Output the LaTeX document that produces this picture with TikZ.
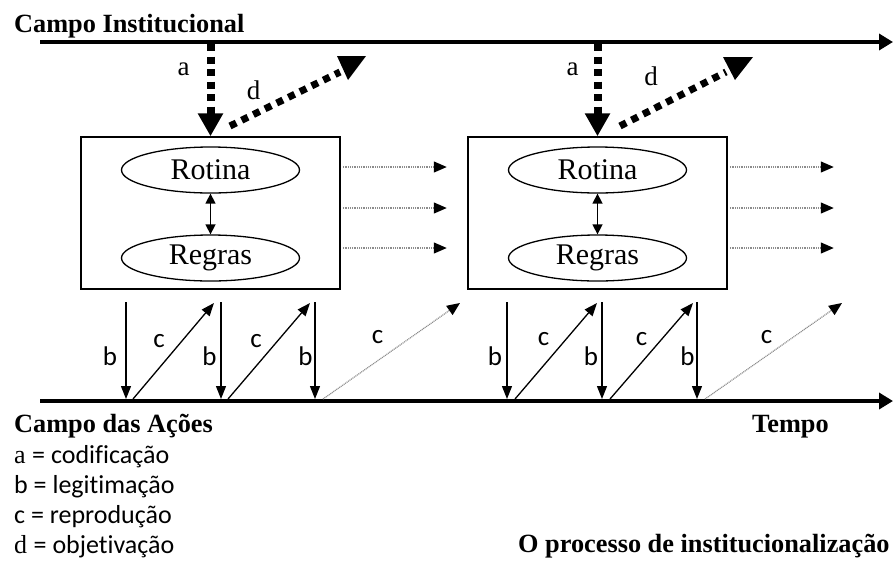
\documentclass[tikz,border=0pt]{standalone}
\usepackage{fontspec}
\setmainfont{Liberation Serif}
\newfontfamily\calfont[Ligatures=NoCommon]{Carlito}
\usetikzlibrary{arrows.meta,shapes.geometric}
\begin{document}
\begin{tikzpicture}[x=1pt,y=-1pt,
  title/.style={anchor=base west, inner sep=0, font=\fontsize{26.3}{30}\selectfont\bfseries},
  legend/.style={anchor=base west, inner sep=0, font=\fontsize{26}{30}\selectfont},
  box/.style={draw, line width=1.5pt, minimum width=259pt, minimum height=152pt, inner sep=0},
  oval/.style={draw, ellipse, line width=1.3pt, minimum width=178pt, minimum height=46pt, inner sep=0, font=\fontsize{30}{32}\selectfont},
  axis/.style={line width=4.5pt, -{Triangle[width=16pt,length=14pt]}},
  heavy/.style={line width=8pt, dash pattern=on 7pt off 5.5pt, -{Triangle[width=24pt,length=23pt]}},
  heavyline/.style={line width=7pt, dash pattern=on 7pt off 6pt},
  thinarrow/.style={line width=1.3pt, -{Triangle[width=10pt,length=13pt]}},
  twoway/.style={line width=1.5pt, {Triangle[width=10pt,length=10pt]}-{Triangle[width=10pt,length=10pt]}},
  faint/.style={draw=gray!90, line width=1.2pt, dash pattern=on 1pt off 0.8pt, -{Triangle[width=11pt,length=13pt,color=black]}},
  slab/.style={anchor=base, inner sep=0, font=\fontsize{27}{30}\selectfont},
  clab/.style={anchor=base, inner sep=0, font=\calfont\fontsize{27}{30}\selectfont}]
\useasboundingbox (0,0) rectangle (893,563);

% the two fields, drawn as time axes
\coordinate (topL) at (40,42);
\coordinate (topR) at (893,42);
\coordinate (botL) at (40,401);
\coordinate (botR) at (893,401);
\draw[axis] (topL) -- (topR);
\draw[axis] (botL) -- (botR);

\node[title] (campoInst) at (14,32) {Campo Institucional};
\node[title] (campoAcoes) at (14,432) {Campo das Ações};
\node[title] (tempo) at (752,432) {Tempo};
\node[title] (processo) at (518,552) {O processo de institucionalização};

% legend
\node[legend] (la) at (14,463) {a {\calfont= codificação}};
\node[legend] (lb) at (14,493) {\calfont b = legitimação};
\node[legend] (lc) at (14,523) {\calfont c = reprodução};
\node[legend] (ld) at (14,553) {d {\calfont= objetivação}};

% the two institutional moments
\foreach \i/\cx in {1/210.5, 2/597.5} {
  \node[box] (box\i) at (\cx,213) {};
  \node[oval] (rot\i) at (\cx,170) {Rotina};
  \node[oval] (reg\i) at (\cx,258) {Regras};
  \draw[twoway] (rot\i) -- (reg\i);
  \coordinate (src\i) at (\cx,44);
  \draw[heavy] (src\i) -- (box\i.north);
  \foreach \y in {167,208,248}
    \draw[faint, shorten <=2pt] (box\i.east |- 0,\y) -- ++(106,0);
}

% objectification (d)
\coordinate (d1s) at (230,126);
\coordinate (d1e) at (340,72);
\draw[heavyline] (d1s) -- (d1e);
\fill (337,56) -- (366,56) -- (348,80) -- cycle;
\coordinate (d2s) at (620,126);
\coordinate (d2e) at (726,72);
\draw[heavyline] (d2s) -- (d2e);
\fill (723,57) -- (753,57) -- (735,80) -- cycle;

\node[slab] (a1) at (183.5,75) {a};
\node[slab] (dl1) at (253.5,99) {d};
\node[slab] (a2) at (572.5,75) {a};
\node[slab] (dl2) at (651,85) {d};

% legitimation (b) and reproduction (c)
\foreach \x in {126,221,315,507,602,697}
  \draw[thinarrow] (\x,302) -- (\x,399);
\foreach \xa/\xb in {133/214, 228/310, 515/597, 610/693}
  \draw[thinarrow] (\xa,399) -- (\xb,303);
\draw[faint] (323,399) -- (460,303);
\draw[faint] (705,399) -- (842,303);

\foreach \x in {110,209.5,305.5,495,591,687.5}
  \node[clab] at (\x,365) {b};
\foreach \x/\y in {159/347, 256/347, 377.5/343, 543.5/345, 641.5/345, 766.5/343}
  \node[clab] at (\x,\y) {c};
\end{tikzpicture}
\end{document}
